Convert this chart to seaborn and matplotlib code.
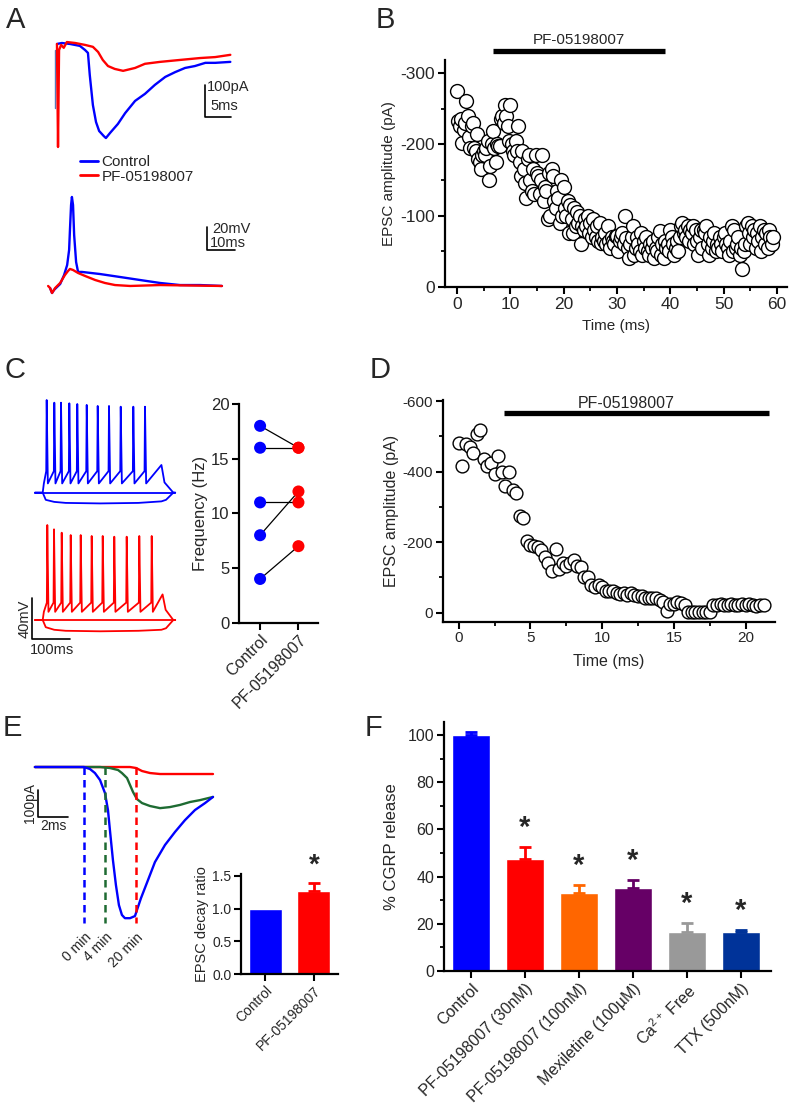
import matplotlib
matplotlib.use("Agg")
import matplotlib.pyplot as plt
import numpy as np
import pandas as pd
import seaborn as sns
from matplotlib.lines import Line2D
from matplotlib.ticker import MultipleLocator

W, H = 791, 1105

BLUE = "#0000FF"
RED = "#FF0000"
GREEN = "#1E6B32"

# ---- panel A: EPSC traces (ms, pA) ----
a_blue_t = [0.2, 1.15, 2.7, 4.6, 5.6, 6.15, 6.5, 7.1, 7.7, 8.3, 9.2, 9.6, 10.4, 11.9, 13.3,
            15.2, 17.1, 19.0, 21.0, 22.9, 24.8, 26.7, 28.7, 30.6, 33.5]
a_blue_i = [0, 3, 0, -6, -19, -28, -97, -191, -244, -272, -288, -294, -278, -250, -216,
            -178, -156, -128, -103, -88, -75, -69, -59, -59, -56]
a_red_t = [0.2, 0.4, 0.6, 1.0, 1.5, 2.1, 3.7, 5.6, 7.1, 8.1, 9.0, 10.0, 11.3, 12.9, 15.2,
           17.1, 20.0, 23.8, 27.7, 30.6, 33.5]
a_red_i = [0, -322, -19, -3, -12, 6, 3, -3, -9, -25, -50, -69, -78, -84, -75,
           -62, -56, -50, -44, -41, -34]
# ---- panel A: EPSP traces (ms, mV) ----
a_blue_vt = [-0.7, 0, 0.7, 1.4, 2.9, 4.3, 5.4, 6.1, 6.4, 6.8, 7.1, 7.5, 7.9, 8.6, 9.3, 10.7,
             17.1, 24.3, 31.4, 38.6, 45.7, 52.9, 60.7]
a_blue_v = [1.7, -2.6, 0, 1.7, 5.2, 13, 21.7, 34.8, 52.2, 73.9, 80.9, 73.9, 47.8, 24.3, 15.7, 15.7,
            13.9, 11.3, 8.7, 6.1, 4.3, 4.3, 3.5]
a_red_vt = [-1.4, -0.7, 0, 1.1, 2.9, 4.6, 5.7, 6.4, 7.5, 9.3, 11.8, 15.4, 18.9, 22.5, 27.9, 38.6, 60.7]
a_red_v = [3.5, 1.7, -2.6, 1.7, 6.1, 13, 16.5, 18.3, 17.4, 14.8, 12.2, 8.7, 6.1, 4.3, 3.5, 4.3, 3.5]

# ---- panel B: EPSC amplitude every 0.25 ms ----
b_amp = [-275, -232, -225, -235, -202, -220, -230, -260, -240, -210, -195, -225,
         -230, -195, -190, -215, -180, -175, -165, -185, -190, -185, -195, -205,
         -150, -170, -200, -218, -195, -175, -200, -198, -198, -235, -240, -230,
         -255, -240, -225, -205, -255, -200, -190, -185, -205, -190, -225, -175,
         -155, -190, -165, -145, -125, -180, -185, -150, -135, -165, -130, -185,
         -160, -155, -130, -150, -185, -120, -140, -135, -95, -160, -100, -165,
         -155, -120, -110, -135, -125, -90, -150, -100, -140, -110, -100, -120,
         -75, -115, -95, -75, -110, -85, -105, -90, -100, -60, -85, -80,
         -95, -85, -100, -75, -90, -70, -95, -80, -70, -85, -65, -90,
         -62, -70, -65, -75, -60, -85, -65, -55, -70, -65, -60, -72,
         -72, -50, -65, -70, -75, -60, -100, -68, -55, -40, -60, -70,
         -85, -45, -55, -70, -60, -50, -75, -45, -65, -55, -70, -50,
         -45, -60, -55, -65, -40, -55, -50, -70, -78, -45, -60, -40,
         -65, -55, -60, -50, -80, -70, -60, -45, -55, -65, -50, -70,
         -85, -90, -75, -80, -70, -85, -65, -80, -75, -85, -60, -80,
         -65, -45, -70, -80, -55, -80, -75, -85, -60, -45, -70, -55,
         -65, -75, -50, -60, -55, -70, -60, -50, -70, -75, -60, -55,
         -45, -65, -85, -50, -80, -55, -60, -70, -45, -55, -25, -50,
         -60, -85, -90, -75, -60, -85, -70, -80, -55, -75, -65, -85,
         -50, -70, -80, -60, -75, -55, -80, -70, -60, -70]
b_step = 0.25
b_drug = (6.75, 39.0)

# ---- panel C: firing (ms, mV) ----
c_blue_spikes = [10.4, 30.3, 47.8, 69.5, 90.3, 114.9, 143.6, 173.1, 203.7, 236.6, 267.1]
c_blue_peaks = [90.4, 87.8, 87.8, 87.2, 86.5, 85.6, 84.6, 84.6, 83.9, 83.9, 83.9]
c_red_spikes = [12.0, 29.5, 49.6, 73.1, 99.2, 127.9, 156.7, 186.9, 219.3, 252.2, 284.6]
c_red_peaks = [92.7, 88.5, 85.2, 82.9, 82.9, 82.0, 82.0, 81.3, 81.3, 82.0, 82.0]
c_blue_thresh, c_blue_trough = 21, 9
c_red_thresh, c_red_trough = 17, 8
c_hyper_t = [-20, 0, 8, 30, 60, 150, 250, 310, 322, 341, 346]
c_blue_hyper = [0, 0, -7, -9, -10, -10.5, -10, -8.5, -7, 0, 0]
c_red_hyper = [0, 0, -7, -9.5, -10.5, -11, -10.5, -9.5, -8, 0, 0]
c_freq_control = [18, 16, 11, 8, 4]
c_freq_pf = [16, 16, 11, 12, 7]

# ---- panel D ----
d_amp = [-482, -417, -478, -470, -452, -508, -518, -435, -416, -425,
         -393, -444, -400, -359, -398, -348, -338, -274, -269, -204,
         -192, -189, -187, -178, -159, -140, -119, -182, -123, -140,
         -132, -140, -149, -132, -130, -102, -100, -78, -72, -78,
         -74, -62, -61, -62, -55, -53, -55, -50, -55, -50,
         -47, -47, -41, -43, -41, -41, -36, -31, -6, -25,
         -26, -31, -28, -22, -3, -3, -3, -3, -3, -3,
         -3, -22, -22, -24, -23, -22, -24, -23, -22, -24,
         -22, -25, -21, -20, -22, -23]
d_step = 0.25
d_drug = (3.15, 21.6)

# ---- panel E traces (ms, pA) ----
e_blue_t = [-3.27, 0, 0.4, 0.73, 1.07, 1.4, 1.6, 1.73, 1.93, 2.13, 2.33, 2.53, 2.73, 3.07, 3.4,
            3.53, 3.8, 4.27, 4.73, 5.4, 6.07, 6.73, 7.4, 8.07, 8.6]
e_blue_i = [0, 0, -7.5, -22.5, -48.7, -97.4, -161, -236, -348, -442, -517, -554, -566, -566, -558,
            -536, -491, -423, -356, -292, -243, -199, -161, -135, -112]
e_green_t = [-3.27, 1.07, 1.73, 2.27, 2.53, 2.87, 3.07, 3.27, 3.53, 3.87, 4.4, 5.07, 5.73, 6.4,
             7.07, 7.73, 8.6]
e_green_i = [0, 0, -3.7, -11.2, -22.5, -41.2, -67.4, -93.6, -120, -135, -146, -154, -150, -142,
             -131, -124, -112]
e_red_t = [-3.27, 3.07, 3.47, 3.87, 4.4, 5.07, 8.6]
e_red_i = [0, 0, -3.7, -15, -22.5, -26.2, -26.2]
e_onsets = [0, 1.4, 3.47]
e_onset_labels = ["0 min", "4 min", "20 min"]
e_groups = ["Control", "PF-05198007"]
e_ratio = [1.0, 1.27]
e_ratio_err = [0.0, 0.12]

# ---- panel F ----
f_groups = ["Control", "PF-05198007 (30nM)", "PF-05198007 (100nM)",
            "Mexiletine (100\u00b5M)", r"Ca$\mathregular{^{2+}}$ Free", "TTX (500nM)"]
f_release = [100, 47.5, 33, 35, 16.5, 16.5]
f_err = [1.5, 5, 3.5, 3.5, 4, 1]
f_colors = ["#0000FF", "#FF0000", "#FF6600", "#660066", "#999999", "#003399"]
f_sig = [False, True, True, True, True, True]

sns.set_theme(style="ticks")
plt.rcParams["font.family"] = ["Liberation Sans", "DejaVu Sans"]
plt.rcParams["mathtext.fontset"] = "custom"
plt.rcParams["mathtext.rm"] = "Liberation Sans"
plt.rcParams["axes.unicode_minus"] = False

fig = plt.figure(figsize=(W / 100, H / 100), dpi=100)
fig.patch.set_facecolor("white")


def px_axes(x0, y0, x1, y1):
    return fig.add_axes([x0 / W, 1 - y1 / H, (x1 - x0) / W, (y1 - y0) / H])


def style(ax, fs):
    sns.despine(ax=ax)
    for s in ["left", "bottom"]:
        ax.spines[s].set_linewidth(1.6)
        ax.spines[s].set_color("black")
    ax.tick_params(which="major", width=1.5, length=5, labelsize=fs, pad=2, color="black")
    ax.tick_params(which="minor", width=1.3, length=3, color="black")
    ax.set_facecolor("none")


def scale_bar(ax, x, y, dx, dy):
    ax.plot([x, x, x + dx], [y + dy, y, y], color="black", lw=1.2, clip_on=False)


def panel_label(x, y, s):
    fig.text(x / W, 1 - y / H, s, fontsize=21, ha="left", va="top")


# ================= A =================
axA = px_axes(45, 35, 260, 155)
axA.plot([-0.1, -0.1], [-20, -200], color="#5878B8", lw=1.0)
axA.plot(a_blue_t, a_blue_i, color=BLUE, lw=1.7, label="Control")
axA.plot(a_red_t, a_red_i, color=RED, lw=1.7, label="PF-05198007")
axA.set_xlim(-2.1, 39.2)
axA.set_ylim(-347, 28)
axA.axis("off")
scale_bar(axA, 28.65, -228, 5, 100)
axA.text(29.0, -134, "100pA", fontsize=10.5, ha="left", va="center")
axA.text(29.6, -194, "5ms", fontsize=10.5, ha="left", va="center")
axA.legend(handles=[Line2D([], [], color=BLUE, lw=2), Line2D([], [], color=RED, lw=2)],
           labels=["Control", "PF-05198007"], loc="upper left", frameon=False,
           bbox_to_anchor=(80 / W, 1 - 155 / H), bbox_transform=fig.transFigure,
           borderaxespad=0, borderpad=0, handlelength=1.2, handletextpad=0.2,
           labelspacing=0.05, fontsize=11)

axAv = px_axes(40, 185, 260, 300)
axAv.plot(a_blue_vt, a_blue_v, color=BLUE, lw=1.7)
axAv.plot(a_red_vt, a_red_v, color=RED, lw=1.7)
axAv.set_xlim(-4.3, 74.3)
axAv.set_ylim(-8.7, 91.3)
axAv.axis("off")
scale_bar(axAv, 55.4, 34.8, 10, 20)
axAv.text(57.1, 53, "20mV", fontsize=10.5, ha="left", va="center")
axAv.text(56.4, 40.5, "10ms", fontsize=10.5, ha="left", va="center")

# ================= B =================
axB = px_axes(445, 60, 787, 287)
b_time = np.arange(len(b_amp)) * b_step
sns.scatterplot(x=b_time, y=b_amp, ax=axB, s=100, color="white", edgecolor="black",
                linewidth=1.0, clip_on=False, zorder=3)
axB.set_xlim(-2.25, 61.9)
axB.set_ylim(0, -318)
axB.set_xticks(range(0, 61, 10))
axB.set_yticks([0, -100, -200, -300])
axB.xaxis.set_minor_locator(MultipleLocator(5))
axB.yaxis.set_minor_locator(MultipleLocator(50))
style(axB, 12.5)
axB.set_xlabel("Time (ms)", fontsize=11, labelpad=5)
axB.set_ylabel("EPSC amplitude (pA)", fontsize=11, labelpad=3)
axB.plot(b_drug, [-330, -330], color="black", lw=3.8, clip_on=False, solid_capstyle="butt")
axB.text(sum(b_drug) / 2, -336, "PF-05198007", fontsize=11, ha="center", va="bottom")

# ================= C =================
def build_firing(spikes, peaks, thresh, trough, end_ramp, end_t):
    t = [-20, 0, 3]
    v = [0, 0, trough]
    for ts, pk in zip(spikes, peaks):
        t += [ts - 1.2, ts, ts + 3]
        v += [thresh, pk, trough]
    t += [end_ramp[0], end_ramp[0] + 8, end_t, end_t + 5]
    v += [end_ramp[1], 10, 0, 0]
    return t, v


cb_t, cb_v = build_firing(c_blue_spikes, c_blue_peaks, c_blue_thresh, c_blue_trough, (310, 27), 341)
cr_t, cr_v = build_firing(c_red_spikes, c_red_peaks, c_red_thresh, c_red_trough, (313, 25), 341)

axCb = px_axes(28, 395, 180, 515)
axCb.plot(cb_t, cb_v, color=BLUE, lw=1.3)
axCb.plot([-20, 346], [0, 0], color=BLUE, lw=1.3)
axCb.plot(c_hyper_t, c_blue_hyper, color=BLUE, lw=1.3)
axCb.set_xlim(-38.4, 358.5)
axCb.set_ylim(-21.8, 95.3)
axCb.axis("off")

axCr = px_axes(28, 520, 180, 660)
axCr.plot(cr_t, cr_v, color=RED, lw=1.3)
axCr.plot([-20, 346], [0, 0], color=RED, lw=1.3)
axCr.plot(c_hyper_t, c_red_hyper, color=RED, lw=1.3)
axCr.set_xlim(-38.4, 358.5)
axCr.set_ylim(-39, 97.6)
axCr.axis("off")
scale_bar(axCr, -28.7, -18.8, 100, 40)
axCr.text(-47, 1, "40mV", fontsize=10.5, rotation=90, ha="center", va="center")
axCr.text(24, -22, "100ms", fontsize=10.5, ha="center", va="top")

axC = px_axes(239, 404, 318, 622.7)
for a, b in zip(c_freq_control, c_freq_pf):
    axC.plot([0, 1], [a, b], color="black", lw=0.9, zorder=1)
c_df = pd.DataFrame({"x": [0] * 5 + [1] * 5, "freq": c_freq_control + c_freq_pf,
                     "group": ["Control"] * 5 + ["PF"] * 5})
sns.scatterplot(data=c_df, x="x", y="freq", hue="group", palette=[BLUE, RED], s=75,
                linewidth=0, legend=False, ax=axC, clip_on=False, zorder=3)
axC.set_xlim(-0.55, 1.51)
axC.set_ylim(0, 20)
axC.set_yticks(range(0, 21, 5))
axC.set_xticks([0, 1])
style(axC, 12)
axC.set_xticklabels(["Control", "PF-05198007"], rotation=45, ha="right",
                    rotation_mode="anchor", fontsize=11.5)
axC.set_xlabel("")
axC.set_ylabel("Frequency (Hz)", fontsize=12, labelpad=2)

# ================= D =================
axD = px_axes(443, 400, 775, 621.7)
d_time = np.arange(len(d_amp)) * d_step
sns.scatterplot(x=d_time, y=d_amp, ax=axD, s=85, color="white", edgecolor="black",
                linewidth=1.0, clip_on=False, zorder=3)
axD.set_xlim(-1.1, 22.05)
axD.set_ylim(25.5, -603)
axD.set_xticks(range(0, 21, 5))
axD.set_yticks([0, -200, -400, -600])
axD.xaxis.set_minor_locator(MultipleLocator(2.5))
axD.yaxis.set_minor_locator(MultipleLocator(100))
style(axD, 11)
axD.set_xlabel("Time (ms)", fontsize=11.5, labelpad=6)
axD.set_ylabel("EPSC amplitude (pA)", fontsize=11.5, labelpad=3)
axD.plot(d_drug, [-565, -565], color="black", lw=3.8, clip_on=False, solid_capstyle="butt")
axD.text(11.7, -573, "PF-05198007", fontsize=11.5, ha="center", va="bottom")

# ================= E =================
axE = px_axes(25, 755, 225, 935)
axE.plot(e_red_t, e_red_i, color=RED, lw=1.7)
axE.plot(e_green_t, e_green_i, color=GREEN, lw=1.7)
axE.plot(e_blue_t, e_blue_i, color=BLUE, lw=1.7)
for t0, c, lab in zip(e_onsets, [BLUE, GREEN, RED], e_onset_labels):
    axE.plot([t0, t0], [0, -584], color=c, lw=1.8, ls=(0, (3, 2)))
    axE.text(t0, -612, lab, fontsize=10, rotation=45, ha="right", va="top",
             rotation_mode="anchor")
axE.set_xlim(-3.93, 9.4)
axE.set_ylim(-629, 45)
axE.axis("off")
scale_bar(axE, -3.05, -186, 2, 100)
axE.text(-3.6, -136, "100pA", fontsize=10, rotation=90, ha="center", va="center")
axE.text(-2.05, -195, "2ms", fontsize=10, ha="center", va="top")

axEb = px_axes(241, 874, 337.6, 974)
sns.barplot(x=e_groups, y=e_ratio, hue=e_groups, palette=[BLUE, RED], width=0.68,
            saturation=1, legend=False, ax=axEb)
axEb.errorbar([1], [e_ratio[1]], yerr=[[0], [e_ratio_err[1]]], fmt="none", ecolor=RED,
              elinewidth=2, capsize=4, capthick=2)
axEb.text(1, 1.66, "*", fontsize=20, ha="center", va="center", fontweight="bold")
axEb.set_xlim(-0.505, 1.49)
axEb.set_ylim(0, 1.53)
axEb.set_yticks([0, 0.5, 1.0, 1.5])
axEb.set_yticklabels(["0.0", "0.5", "1.0", "1.5"])
style(axEb, 10)
axEb.set_xticks([0, 1])
axEb.set_xticklabels(e_groups, rotation=45, ha="right", rotation_mode="anchor", fontsize=10)
axEb.set_ylabel("EPSC decay ratio", fontsize=10.5, labelpad=2)

# ================= F =================
axF = px_axes(444, 721.7, 771, 971)
sns.barplot(x=list(range(len(f_groups))), y=f_release, hue=list(range(len(f_groups))),
            palette=f_colors, width=0.7, saturation=1, legend=False, ax=axF)
for i, (v, e, c, s) in enumerate(zip(f_release, f_err, f_colors, f_sig)):
    axF.errorbar([i], [v], yerr=[[0], [e]], fmt="none", ecolor=c, elinewidth=2,
                 capsize=4, capthick=2)
    if s:
        axF.text(i, v + e + 8, "*", fontsize=21, ha="center", va="center", fontweight="bold")
axF.set_xlim(-0.5, 5.56)
axF.set_ylim(0, 105.7)
axF.set_yticks(range(0, 101, 20))
axF.yaxis.set_minor_locator(MultipleLocator(10))
style(axF, 11.5)
axF.set_xticks(range(len(f_groups)))
axF.set_xticklabels(f_groups, rotation=45, ha="right", rotation_mode="anchor", fontsize=11.5)
axF.set_ylabel("% CGRP release", fontsize=12, labelpad=6)

panel_label(6, 6, "A")
panel_label(376, 6, "B")
panel_label(4, 356, "C")
panel_label(370, 356, "D")
panel_label(3, 714, "E")
panel_label(365, 714, "F")

fig.savefig("out.png", dpi=100, facecolor="white")
